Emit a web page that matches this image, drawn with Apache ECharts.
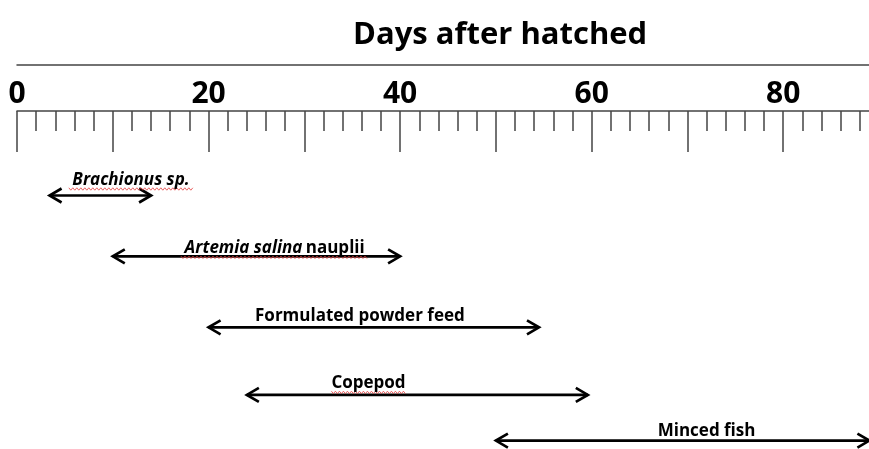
<!DOCTYPE html>
<html>
<head>
<meta charset="utf-8">
<script src="https://cdn.jsdelivr.net/npm/echarts@6/dist/echarts.min.js"></script>
<style>
html, body { margin: 0; padding: 0; background: #fff; }
#main { width: 869px; height: 449px; }
</style>
</head>
<body>
<div id="main"></div>
<script>
// feeding periods, in days after hatching
var foods = ['Brachionus sp.', 'Artemia salina nauplii', 'Formulated powder feed', 'Copepod', 'Minced fish'];
var labelText = ['{i|Brachionus sp.}', '{i|Artemia salina} {n|nauplii}', '{n|Formulated powder feed}', '{n|Copepod}', '{n|Minced fish}'];
var startDays = [3.4, 10, 20, 24, 50];
var endDays = [14, 40, 54.5, 59.6, 89];
var rowLevels = [2.5, 4.3, 6.4, 8.4, 9.75];   // vertical slot of each arrow
var labelDays = [11.9, 26.9, 35.8, 36.7, 72];  // where each caption is centred
var spellMarked = [true, true, false, true, false]; // red wavy spell-check underline in the original
var tickLabels = [0, 20, 40, 60, 80];

var FONT = 'Open Sans';
var LABEL_SIZE = 17;
var captionGap = [15.5, 8, 11.5, 11.5, 9.5]; // px between arrow and caption centre

var measureCtx = document.createElement('canvas').getContext('2d');
function textWidth(s)
{
    measureCtx.font = 'bold ' + LABEL_SIZE + 'px "' + FONT + '"';
    return measureCtx.measureText(s).width;
}

var arrowData = [];
for (var i = 0; i < foods.length; i++) {
    arrowData.push({name: foods[i], value: [startDays[i], endDays[i], rowLevels[i], labelDays[i]]});
}

function renderArrow(params, api)
{
    var idx = params.dataIndex;
    var a = api.coord([api.value(0), api.value(2)]);
    var b = api.coord([api.value(1), api.value(2)]);
    var t = api.coord([api.value(3), api.value(2)]);
    var h = 12, w = 7;
    var ty = t[1] - captionGap[idx];
    var st = {stroke: '#000', lineWidth: 2.7, fill: null};
    var kids = [
        {type: 'line', shape: {x1: a[0], y1: a[1], x2: b[0], y2: b[1]}, style: st},
        {type: 'polyline', shape: {points: [[a[0] + h, a[1] - w], [a[0], a[1]], [a[0] + h, a[1] + w]]}, style: st},
        {type: 'polyline', shape: {points: [[b[0] - h, b[1] - w], [b[0], b[1]], [b[0] - h, b[1] + w]]}, style: st}
    ];
    if (spellMarked[idx]) {
        var tw = textWidth(foods[idx]);
        var pts = [];
        var y0 = ty + 9;
        for (var x = t[0] - tw / 2, k = 0; x <= t[0] + tw / 2; x += 2, k++) {
            pts.push([x, y0 + (k % 2 ? 1.2 : -1.2)]);
        }
        kids.push({type: 'polyline', shape: {points: pts}, style: {stroke: '#e23b3b', lineWidth: 0.8, fill: null}});
    }
    kids.push({
        type: 'text',
        x: t[0],
        y: ty,
        style: {
            text: labelText[idx],
            align: 'center',
            verticalAlign: 'middle',
            fill: '#000',
            rich: {
                i: {fontFamily: FONT, fontSize: LABEL_SIZE, fontWeight: 'bold', fontStyle: 'italic', fill: '#000'},
                n: {fontFamily: FONT, fontSize: LABEL_SIZE, fontWeight: 'bold', fill: '#000'}
            }
        }
    });
    return {type: 'group', children: kids};
}

var myChart = echarts.init(document.getElementById('main'));
var option = {
    backgroundColor: '#fff',
    animation: false,
    title: {
        text: 'Days after hatched',
        left: 348,
        top: 15,
        textStyle: {fontFamily: FONT, fontSize: 31, fontWeight: 'bold', color: '#000'}
    },
    grid: {left: 17, right: -10, top: 111, bottom: 0, containLabel: false, outerBoundsMode: 'none'},
    xAxis: [
        {
            type: 'value',
            position: 'top',
            min: 0,
            max: 90,
            interval: 10,
            axisLine: {show: true, lineStyle: {color: '#444', width: 1.5}},
            axisTick: {show: true, inside: true, length: 41, lineStyle: {color: '#444', width: 1.5}},
            minorTick: {show: true, splitNumber: 5, length: 20, lineStyle: {color: '#444', width: 1.5}},
            axisLabel: {
                margin: 2,
                fontFamily: FONT,
                fontSize: 30,
                fontWeight: 'bold',
                color: '#000',
                formatter: function (v) { return tickLabels.indexOf(v) >= 0 ? String(v) : ''; }
            },
            splitLine: {show: false}
        },
        {
            type: 'value',
            position: 'top',
            offset: 46,
            min: 0,
            max: 90,
            axisLine: {show: true, lineStyle: {color: '#444', width: 1.5}},
            axisTick: {show: false},
            axisLabel: {show: false},
            splitLine: {show: false}
        }
    ],
    yAxis: {type: 'value', min: 0, max: 10, inverse: true, show: false},
    series: [
        {
            type: 'custom',
            renderItem: renderArrow,
            clip: false,
            encode: {x: [0, 1, 3], y: 2},
            data: arrowData
        }
    ]
};
myChart.setOption(option);
</script>
</body>
</html>
